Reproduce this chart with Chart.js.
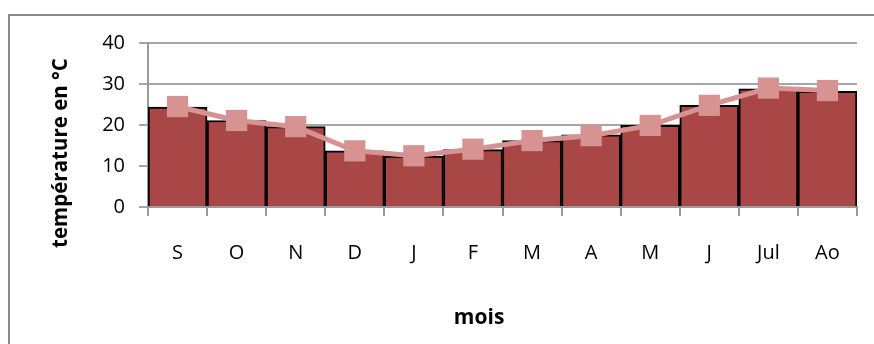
<!DOCTYPE html>
<html>
<head>
<meta charset="utf-8">
<script src="https://cdn.jsdelivr.net/npm/chart.js@4"></script>
<style>
  html, body { margin: 0; padding: 0; background: #fff; }
  #wrap { position: relative; width: 874px; height: 344px; overflow: hidden; }
  #frame { position: absolute; left: 8px; top: 14px; width: 900px; height: 400px; border: 2px solid #8a8a8a; box-sizing: border-box; }
  canvas { position: absolute; left: 0; top: 0; }
</style>
</head>
<body>
<div id="wrap">
  <div id="frame"></div>
  <canvas id="c" width="874" height="344"></canvas>
</div>
<script>
// températures moyennes mensuelles
const MOIS = ["S", "O", "N", "D", "J", "F", "M", "A", "M", "J", "Jul", "Ao"];
const TEMP_BARRES = [24.4, 21.1, 19.6, 13.7, 12.4, 14.0, 16.2, 17.6, 19.9, 24.8, 28.8, 28.2];
const TEMP_COURBE = [24.5, 21.1, 19.6, 13.7, 12.5, 14.1, 16.2, 17.4, 19.9, 24.8, 29.0, 28.4];
const Y_MAX = 40;
const Y_STEP = 10;
const TITRE_X = "mois";
const TITRE_Y = "température en °C";

const FONT = "'Open Sans', sans-serif";

// titres d'axes placés comme dans Excel (le titre Y déborde de la zone de tracé)
const axisTitles = {
  id: "axisTitles",
  afterDraw(chart) {
    const { ctx, chartArea } = chart;
    ctx.save();
    ctx.fillStyle = "#000";
    ctx.textAlign = "center";
    ctx.textBaseline = "middle";
    ctx.font = "bold 21px " + FONT;
    ctx.fillText(TITRE_X, chartArea.left + (chartArea.right - chartArea.left) * 0.467, 318);
    ctx.translate(61, 153);
    ctx.rotate(-Math.PI / 2);
    ctx.font = "bold 20.5px " + FONT;
    ctx.fillText(TITRE_Y, 0, 0);
    ctx.restore();
  },
};

new Chart(document.getElementById("c"), {
  type: "bar",
  data: {
    labels: MOIS,
    datasets: [
      {
        type: "line",
        data: TEMP_COURBE,
        borderColor: "#D69391",
        backgroundColor: "#D69391",
        borderWidth: 5,
        pointStyle: "rect",
        pointRadius: 15,
        pointBorderWidth: 0,
        tension: 0,
        order: 0,
      },
      {
        data: TEMP_BARRES,
        backgroundColor: "#A84745",
        borderColor: "#000",
        borderWidth: 2,
        borderSkipped: "bottom",
        categoryPercentage: 1,
        barPercentage: 1,
        order: 1,
      },
    ],
  },
  options: {
    responsive: false,
    animation: false,
    layout: { padding: { top: 43, right: 17, left: 0, bottom: 0 } },
    plugins: { legend: { display: false }, tooltip: { enabled: false } },
    scales: {
      x: {
        offset: true,
        grid: { display: true, offset: true, drawOnChartArea: false, color: "#9a9a9a", tickLength: 9, lineWidth: 2 },
        border: { color: "#9a9a9a", width: 2 },
        ticks: { color: "#000", padding: 25, font: { family: FONT, size: 20 } },
        afterFit: (s) => { s.height = 137; },
      },
      y: {
        min: 0,
        max: Y_MAX,
        ticks: { stepSize: Y_STEP, color: "#000", padding: 14, font: { family: FONT, size: 20 } },
        grid: { color: "#a6a6a6", lineWidth: 2, tickLength: 9 },
        border: { color: "#9a9a9a", width: 2 },
        afterFit: (s) => { s.width = 148; },
      },
    },
  },
  plugins: [axisTitles],
});
</script>
</body>
</html>
